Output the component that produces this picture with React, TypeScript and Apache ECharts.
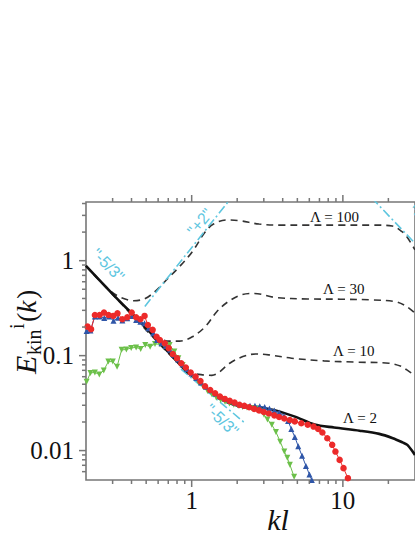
import React, { useEffect, useRef } from "react";
import * as echarts from "echarts";

// ---- axis extents ----
const X_MIN = 0.2;
const X_MAX = 30;
const Y_MIN = 0.0049;
const Y_MAX = 4.15;

// ---- tick values / labels ----
const X_MAJOR_TICKS = [1, 10];
const X_MAJOR_LABELS = ["1", "10"];
const X_MINOR_TICKS = [0.3, 0.4, 0.5, 0.6, 0.7, 0.8, 0.9, 2, 3, 4, 5, 6, 7, 8, 9, 20];
const Y_MAJOR_TICKS = [0.01, 0.1, 1];
const Y_MAJOR_LABELS = ["0.01", "0.1", "1"];
const Y_MINOR_TICKS = [0.006, 0.007, 0.008, 0.009, 0.02, 0.03, 0.04, 0.05, 0.06, 0.07, 0.08, 0.09, 0.2, 0.3, 0.4, 0.5, 0.6, 0.7, 0.8, 0.9, 2, 3, 4];

// ---- Lambda = 2 (solid black) ----
const L2_K = [0.2, 0.3, 0.5, 0.9, 1.088, 1.46, 1.97, 2.66, 3.58, 4.82, 6.49, 8.74, 12.9, 17.4, 21.4, 24.8, 26.7, 30];
const L2_E = [0.88, 0.445, 0.195, 0.0715, 0.0555, 0.037, 0.030, 0.0285, 0.0265, 0.0228, 0.0188, 0.0175, 0.0162, 0.015, 0.0135, 0.0122, 0.0115, 0.009];

// ---- Lambda = 10 (dashed) ----
const L10_K = [0.2, 0.75, 0.915, 1.0, 1.2, 1.36, 1.5, 1.785, 2.18, 2.65, 3.23, 4.58, 7.5, 12.3, 20.2, 24.6, 26.5, 30];
const L10_E = [0.88, 0.095, 0.074, 0.066, 0.0626, 0.062, 0.066, 0.0832, 0.0977, 0.104, 0.1018, 0.094, 0.088, 0.0854, 0.0832, 0.0766, 0.0707, 0.062];

// ---- Lambda = 30 (dashed) ----
const L30_K = [0.2, 0.5, 0.616, 0.715, 0.83, 1.01, 1.231, 1.465, 1.743, 2.12, 2.6, 3.57, 5.86, 9.61, 15.8, 22.3, 26.5, 30];
const L30_E = [0.88, 0.195, 0.152, 0.142, 0.142, 0.158, 0.202, 0.29, 0.37, 0.435, 0.452, 0.41, 0.395, 0.393, 0.386, 0.37, 0.328, 0.28];

// ---- Lambda = 100 (dashed) ----
const L100_K = [0.2, 0.286, 0.34, 0.414, 0.493, 0.586, 0.68, 0.83, 1.01, 1.231, 1.395, 1.7, 2.07, 2.79, 3.94, 5.86, 9.61, 15.8, 21.2, 24.6, 26.5, 30];
const L100_E = [0.88, 0.49, 0.41, 0.379, 0.40, 0.49, 0.626, 0.865, 1.244, 2.02, 2.43, 2.68, 2.64, 2.43, 2.37, 2.37, 2.37, 2.37, 2.32, 2.02, 1.79, 1.3];

// ---- red circles ----
const RED_K = [0.205, 0.216, 0.229, 0.246, 0.263, 0.282, 0.303, 0.323, 0.348, 0.375, 0.401, 0.429, 0.458, 0.488, 0.513, 0.552, 0.586, 0.616, 0.664, 0.705, 0.75, 0.8, 0.854, 0.915, 0.985, 1.061, 1.143, 1.226, 1.326, 1.429, 1.538, 1.656, 1.785, 1.922, 2.07, 2.23, 2.4, 2.59, 2.79, 3.0, 3.24, 3.52, 3.79, 4.1, 4.46, 4.81, 5.31, 5.86, 6.4, 6.87, 7.32, 7.89, 8.5, 8.93, 9.52, 10.1, 10.8];
const RED_E = [0.202, 0.19, 0.268, 0.268, 0.284, 0.268, 0.262, 0.279, 0.242, 0.254, 0.284, 0.254, 0.242, 0.262, 0.21, 0.187, 0.158, 0.146, 0.135, 0.12, 0.104, 0.094, 0.0832, 0.0751, 0.0665, 0.0601, 0.0539, 0.0476, 0.0435, 0.0402, 0.037, 0.035, 0.0334, 0.032, 0.0303, 0.0296, 0.0286, 0.0275, 0.0265, 0.0255, 0.0246, 0.0235, 0.0226, 0.0218, 0.021, 0.0203, 0.0194, 0.0187, 0.0179, 0.0169, 0.0155, 0.0135, 0.0115, 0.00976, 0.00798, 0.00653, 0.00512];

// ---- blue triangles ----
const BLUE_K = [0.202, 0.214, 0.229, 0.246, 0.264, 0.283, 0.304, 0.326, 0.348, 0.375, 0.401, 0.429, 0.458, 0.488, 0.518, 0.557, 0.591, 0.631, 0.674, 0.718, 0.762, 0.815, 0.871, 0.931, 0.996, 1.072, 1.155, 1.245, 1.34, 1.443, 1.556, 1.675, 1.804, 1.942, 2.09, 2.25, 2.43, 2.62, 2.82, 3.04, 3.27, 3.52, 3.79, 4.08, 4.34, 4.56, 4.81, 5.07, 5.37, 5.7, 6.01, 6.23];
const BLUE_E = [0.182, 0.184, 0.259, 0.259, 0.249, 0.259, 0.233, 0.251, 0.234, 0.248, 0.262, 0.238, 0.228, 0.219, 0.194, 0.172, 0.146, 0.135, 0.126, 0.115, 0.102, 0.0912, 0.0808, 0.0724, 0.065, 0.0582, 0.0522, 0.0469, 0.0431, 0.04, 0.0372, 0.035, 0.0334, 0.0318, 0.0306, 0.0299, 0.0296, 0.0296, 0.0293, 0.0288, 0.0278, 0.0265, 0.0252, 0.0232, 0.0205, 0.0169, 0.0139, 0.0111, 0.0088, 0.0069, 0.0056, 0.0049];

// ---- green inverted triangles ----
const GREEN_K = [0.202, 0.214, 0.229, 0.245, 0.262, 0.281, 0.301, 0.321, 0.344, 0.37, 0.398, 0.429, 0.46, 0.493, 0.531, 0.572, 0.616, 0.664, 0.715, 0.768, 0.817, 0.871, 0.915, 0.974, 1.041, 1.113, 1.19, 1.272, 1.36, 1.454, 1.556, 1.662, 1.778, 1.9, 2.03, 2.17, 2.32, 2.48, 2.65, 2.84, 3.01, 3.17, 3.39, 3.61, 3.85, 4.1, 4.29, 4.46, 4.76];
const GREEN_E = [0.0532, 0.0658, 0.0665, 0.0634, 0.0699, 0.0865, 0.0865, 0.0766, 0.115, 0.116, 0.1205, 0.122, 0.1177, 0.1297, 0.1244, 0.1328, 0.1318, 0.125, 0.1297, 0.1107, 0.094, 0.0798, 0.0716, 0.065, 0.0582, 0.0522, 0.0469, 0.0425, 0.0391, 0.0363, 0.0342, 0.0326, 0.0314, 0.0303, 0.0296, 0.0288, 0.0285, 0.0281, 0.0278, 0.0262, 0.0238, 0.0213, 0.0187, 0.0157, 0.0124, 0.00976, 0.0084, 0.0071, 0.0053];

// ---- power-law guide lines (end points) ----
const GUIDE_PLUS2_K = [0.49, 1.85];
const GUIDE_PLUS2_E = [0.33, 4.7];
const GUIDE_LOW_K = [0.85, 2.25];
const GUIDE_LOW_E = [0.072, 0.0195];
const GUIDE_RIGHT_K = [15.5, 32];
const GUIDE_RIGHT_E = [4.6, 1.37];

const zip = (k: number[], e: number[]) => {
  const n = Math.min(k.length, e.length);
  const out: number[][] = [];
  for (let i = 0; i < n; i++) out.push([k[i], e[i]]);
  return out;
};

const AXIS_COLOR = "#777";
const SERIF = "'Liberation Serif', 'DejaVu Serif', serif";
const CYAN = "#5ec6df";

function buildOption() {
  const xTickData = [
    ...X_MAJOR_TICKS.map((v, i) => [v, Y_MIN, 1, i]),
    ...X_MINOR_TICKS.map((v) => [v, Y_MIN, 0, -1]),
  ];
  const yTickData = [
    ...Y_MAJOR_TICKS.map((v, i) => [X_MIN, v, 1, i]),
    ...Y_MINOR_TICKS.map((v) => [X_MIN, v, 0, -1]),
  ];
  const tickStyle = { stroke: AXIS_COLOR, lineWidth: 1.5 };

  const dashed = (name: string, k: number[], e: number[]) => ({
    name,
    type: "line",
    data: zip(k, e),
    showSymbol: false,
    symbol: "none",
    smooth: 0.35,
    lineStyle: { color: "#333", width: 1.6, type: [7, 5] },
    z: 2,
    silent: true,
  });
  const guide = (name: string, k: number[], e: number[]) => ({
    name,
    type: "line",
    data: zip(k, e),
    symbol: "none",
    lineStyle: { color: CYAN, width: 1.6, type: [9, 3, 2, 3] },
    z: 3,
    silent: true,
  });
  const markers = (name: string, k: number[], e: number[], color: string, symbol: string, rotate: number, size: number) => ({
    name,
    type: "line",
    data: zip(k, e),
    symbol,
    symbolRotate: rotate,
    symbolSize: size,
    showSymbol: true,
    itemStyle: { color },
    lineStyle: { color, width: 1 },
    z: 5,
    silent: true,
  });

  return {
    animation: false,
    backgroundColor: "#fff",
    grid: {
      left: 86,
      top: 202,
      right: -8,
      bottom: 57,
      show: true,
      borderColor: AXIS_COLOR,
      borderWidth: 1.6,
      backgroundColor: "transparent",
    },
    xAxis: {
      type: "log",
      logBase: 10,
      min: X_MIN,
      max: X_MAX,
      axisLine: { show: false },
      axisTick: { show: false },
      axisLabel: { show: false },
      splitLine: { show: false },
      minorTick: { show: false },
    },
    yAxis: {
      type: "log",
      logBase: 10,
      min: Y_MIN,
      max: Y_MAX,
      axisLine: { show: false },
      axisTick: { show: false },
      axisLabel: { show: false },
      splitLine: { show: false },
      minorTick: { show: false },
    },
    series: [
      dashed("Λ = 100", L100_K, L100_E),
      dashed("Λ = 30", L30_K, L30_E),
      dashed("Λ = 10", L10_K, L10_E),
      guide("+2", GUIDE_PLUS2_K, GUIDE_PLUS2_E),
      guide("-5/3 low", GUIDE_LOW_K, GUIDE_LOW_E),
      guide("-5/3 right", GUIDE_RIGHT_K, GUIDE_RIGHT_E),
      {
        name: "Λ = 2",
        type: "line",
        data: zip(L2_K, L2_E),
        symbol: "none",
        smooth: 0.3,
        lineStyle: { color: "#111", width: 2.6 },
        z: 4,
        silent: true,
      },
      markers("green", GREEN_K, GREEN_E, "#6cc04a", "triangle", 180, 6),
      markers("blue", BLUE_K, BLUE_E, "#2f56a8", "triangle", 0, 6),
      markers("red", RED_K, RED_E, "#ec2a2a", "circle", 0, 6.5),
      {
        name: "xticks",
        type: "custom",
        data: xTickData,
        dimensions: ["x", "y", "major", "label"],
        encode: { x: 0, y: 1 },
        clip: false,
        silent: true,
        z: 10,
        renderItem: (params: any, api: any) => {
          const v = api.value(0);
          const major = api.value(2) === 1;
          const li = api.value(3);
          const b = api.coord([v, Y_MIN]);
          const t = api.coord([v, Y_MAX]);
          const len = major ? 7 : 4;
          const children: any[] = [
            { type: "line", shape: { x1: b[0], y1: b[1], x2: b[0], y2: b[1] + len }, style: tickStyle },
            { type: "line", shape: { x1: t[0], y1: t[1], x2: t[0], y2: t[1] - len }, style: tickStyle },
          ];
          if (major) {
            children.push({
              type: "text",
              x: b[0],
              y: b[1] + 20,
              style: {
                text: X_MAJOR_LABELS[li],
                fontSize: 25,
                fontFamily: SERIF,
                fill: "#111",
                align: "center",
                verticalAlign: "middle",
              },
            });
          }
          return { type: "group", children };
        },
      },
      {
        name: "yticks",
        type: "custom",
        data: yTickData,
        dimensions: ["x", "y", "major", "label"],
        encode: { x: 0, y: 1 },
        clip: false,
        silent: true,
        z: 10,
        renderItem: (params: any, api: any) => {
          const v = api.value(1);
          const major = api.value(2) === 1;
          const li = api.value(3);
          const p = api.coord([X_MIN, v]);
          const len = major ? 7 : 4;
          const children: any[] = [
            { type: "line", shape: { x1: p[0], y1: p[1], x2: p[0] - len, y2: p[1] }, style: tickStyle },
          ];
          if (major) {
            children.push({
              type: "text",
              x: p[0] - 12,
              y: p[1],
              style: {
                text: Y_MAJOR_LABELS[li],
                fontSize: 25,
                fontFamily: SERIF,
                fill: "#111",
                align: "right",
                verticalAlign: "middle",
              },
            });
          }
          return { type: "group", children };
        },
      },
    ],
    graphic: [
      { type: "text", x: 310, y: 217, style: { text: "Λ = 100", font: `15px ${SERIF}`, fill: "#111", verticalAlign: "middle" } },
      { type: "text", x: 323, y: 289, style: { text: "Λ = 30", font: `15px ${SERIF}`, fill: "#111", verticalAlign: "middle" } },
      { type: "text", x: 333, y: 351, style: { text: "Λ = 10", font: `15px ${SERIF}`, fill: "#111", verticalAlign: "middle" } },
      { type: "text", x: 343, y: 418, style: { text: "Λ = 2", font: `15px ${SERIF}`, fill: "#111", verticalAlign: "middle" } },
      { type: "text", x: 108, y: 265, rotation: -0.8, style: { text: '"-5/3"', font: "16px 'Liberation Sans', sans-serif", fill: CYAN, align: "center", verticalAlign: "middle" } },
      { type: "text", x: 200, y: 222, rotation: 0.88, style: { text: '"+2"', font: "16px 'Liberation Sans', sans-serif", fill: CYAN, align: "center", verticalAlign: "middle" } },
      { type: "text", x: 222, y: 420, rotation: -0.75, style: { text: '"-5/3"', font: "16px 'Liberation Sans', sans-serif", fill: CYAN, align: "center", verticalAlign: "middle" } },
      { type: "text", x: 424, y: 222, rotation: -0.8, style: { text: '"-5/3"', font: "16px 'Liberation Sans', sans-serif", fill: CYAN, align: "center", verticalAlign: "middle" } },
      { type: "text", x: 278, y: 519, style: { text: "kl", font: `italic 30px ${SERIF}`, fill: "#111", align: "center", verticalAlign: "middle" } },
      {
        type: "group",
        x: 40,
        y: 374,
        rotation: Math.PI / 2,
        children: [
          { type: "text", x: 0, y: 0, style: { text: "E", font: `italic 30px ${SERIF}`, fill: "#111", verticalAlign: "bottom" } },
          { type: "text", x: 19, y: 4, style: { text: "kin", font: `20px ${SERIF}`, fill: "#111", verticalAlign: "bottom" } },
          { type: "text", x: 45, y: -13, style: { text: "i", font: `20px ${SERIF}`, fill: "#111", verticalAlign: "bottom" } },
          { type: "text", x: 52, y: 0, style: { text: "(", font: `28px ${SERIF}`, fill: "#111", verticalAlign: "bottom" } },
          { type: "text", x: 61, y: 0, style: { text: "k", font: `italic 28px ${SERIF}`, fill: "#111", verticalAlign: "bottom" } },
          { type: "text", x: 75, y: 0, style: { text: ")", font: `28px ${SERIF}`, fill: "#111", verticalAlign: "bottom" } },
        ],
      },
    ],
  };
}

export default function App() {
  const ref = useRef<HTMLDivElement>(null);
  useEffect(() => {
    if (!ref.current) return;
    const chart = echarts.init(ref.current, null, { renderer: "svg" });
    chart.setOption(buildOption() as any);
    return () => chart.dispose();
  }, []);
  return (
    <div
      ref={ref}
      style={{ position: "absolute", left: 0, top: 0, width: 415, height: 537, background: "#fff", overflow: "hidden" }}
    />
  );
}
